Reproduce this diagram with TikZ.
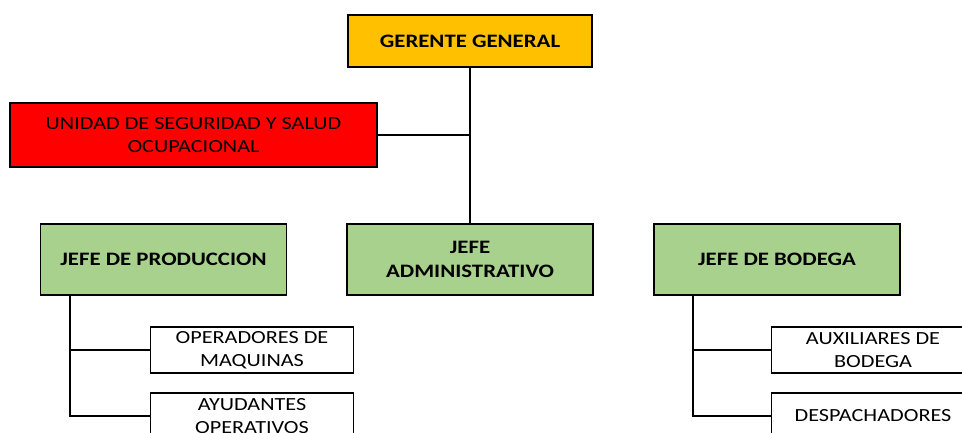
\documentclass[tikz,border=0pt]{standalone}
\usepackage{fontspec}
\setmainfont{Carlito}[FakeStretch=1.2]
\usetikzlibrary{calc}

\definecolor{amarillo}{HTML}{FFC000}
\definecolor{rojo}{HTML}{FF0000}
\definecolor{verde}{HTML}{A9D18E}

\begin{document}
\begin{tikzpicture}[x=1pt,y=-1pt,
	caja/.style={draw=black,line width=1.4pt,align=center,inner sep=0pt},
	jefe/.style={caja,fill=verde,minimum width=246pt,minimum height=71pt,font=\bfseries\fontsize{19}{24}\selectfont},
	puesto/.style={caja,fill=white,minimum width=203pt,minimum height=46pt,font=\fontsize{18.5}{22.5}\selectfont},
	linea/.style={draw=black,line width=2.2pt}]

	\clip (0,0) rectangle (962,433);

	\node[caja,fill=amarillo,minimum width=244pt,minimum height=52pt,font=\bfseries\fontsize{19}{24}\selectfont] (ger) at (470,41) {GERENTE GENERAL};
	\node[caja,fill=rojo,minimum width=367pt,minimum height=64pt,font=\fontsize{18.5}{23}\selectfont] (uni) at (193.5,135) {UNIDAD DE SEGURIDAD Y SALUD\\OCUPACIONAL};

	\node[jefe] (prod) at (163.5,259.5) {JEFE DE PRODUCCION};
	\node[jefe] (adm) at (470,259.5) {JEFE\\ADMINISTRATIVO};
	\node[jefe] (bod) at (777,259.5) {JEFE DE BODEGA};

	\node[puesto] (ope) at (252,350) {OPERADORES DE\\MAQUINAS};
	\node[puesto] (ayu) at (252,416) {AYUDANTES\\OPERATIVOS};
	\node[puesto] (aux) at (873,350) {AUXILIARES DE\\BODEGA};
	\node[puesto] (des) at (873,416) {DESPACHADORES};

	\coordinate (ptop) at ($(prod.south)+(-93.5,0)$);
	\coordinate (btop) at ($(bod.south)+(-84,0)$);

	\path[linea] (ger.south) -- (adm.north);
	\path[linea] (uni.east) -- (uni.east -| ger.south);
	\path[linea] (ptop) |- (ayu.west);
	\path[linea] (ope.west) -- (ope.west -| ptop);
	\path[linea] (btop) |- (des.west);
	\path[linea] (aux.west) -- (aux.west -| btop);

\end{tikzpicture}
\end{document}
